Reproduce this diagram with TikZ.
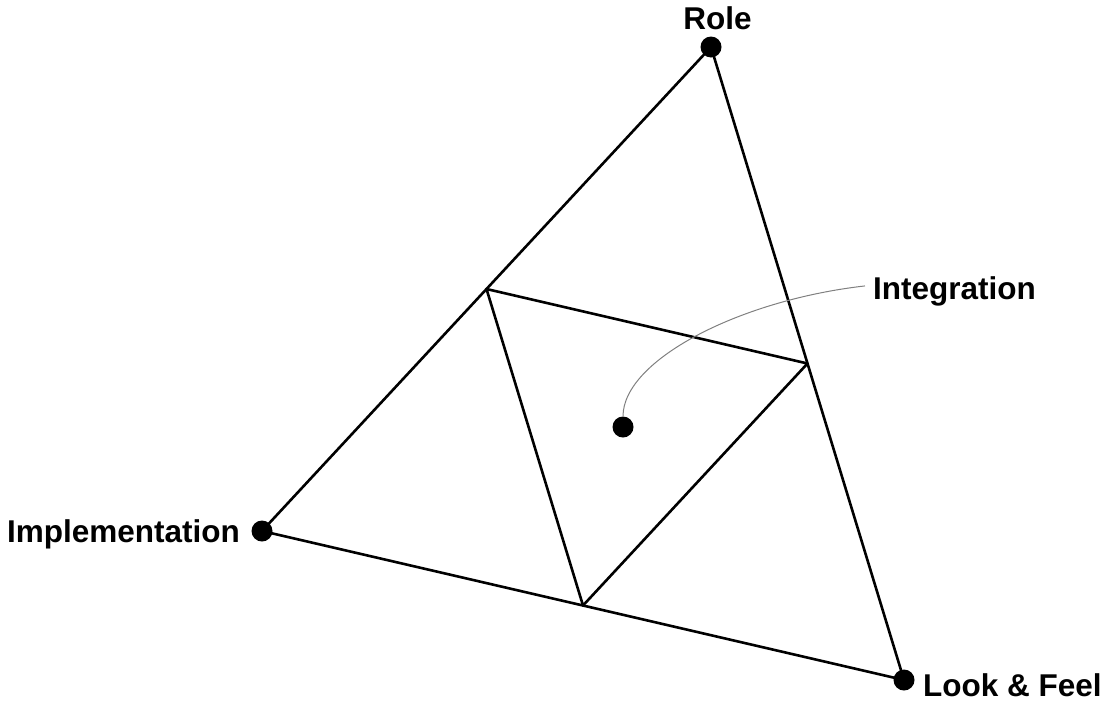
\documentclass[tikz,border=0pt]{standalone}
\usepackage{fontspec}
\setmainfont{Liberation Sans}
\usetikzlibrary{calc}
\begin{document}
\begin{tikzpicture}[x=1pt,y=-1pt,
  dot/.style={circle,fill=black,draw=none,minimum size=21pt,inner sep=0pt},
  edge/.style={line width=2.6pt,line join=round},
  lbl/.style={inner sep=0pt,font=\fontsize{31.5}{36}\selectfont\bfseries},
  lead/.style={draw=gray,line width=1pt}]
\useasboundingbox (0,0) rectangle (1105,702);
\coordinate (cR) at (711,47);
\coordinate (cI) at (262,531);
\coordinate (cL) at (904,680);
\coordinate (mRI) at ($(cR)!0.5!(cI)$);
\coordinate (mRL) at ($(cR)!0.5!(cL)$);
\coordinate (mIL) at ($(cI)!0.5!(cL)$);
\draw[edge] (cR) -- (cI) -- (cL) -- cycle;
\draw[edge] (mRI) -- (mRL) -- (mIL) -- cycle;
\node[dot] (R) at (cR) {};
\node[dot] (I) at (cI) {};
\node[dot] (L) at (cL) {};
\node[dot] (G) at (623,427) {};
\node[lbl,anchor=base] (tR) at (717.5,29) {Role};
\node[lbl,anchor=base east] (tI) at (240,542) {Implementation};
\node[lbl,anchor=base west] (tL) at (923,696) {Look \& Feel};
\node[lbl,anchor=base west] (tG) at (873,299) {Integration};
\draw[lead] (G.north) .. controls (623,360) and (740,300) .. ([xshift=-8pt,yshift=5pt]tG.west);
\end{tikzpicture}
\end{document}
